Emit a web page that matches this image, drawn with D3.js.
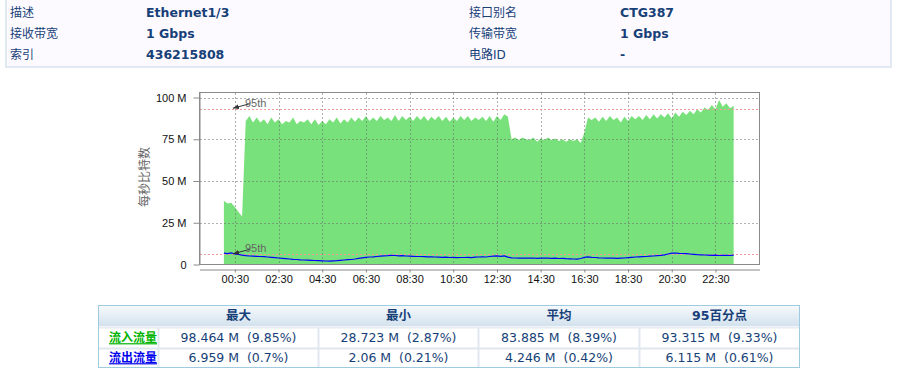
<!DOCTYPE html>
<html>
<head>
<meta charset="utf-8">
<script src="https://cdn.jsdelivr.net/npm/d3@7"></script>
<style>
body { margin: 0; background: #fff; }
svg text { white-space: pre; }
</style>
</head>
<body>
<script>
// ---- data ----
var infoLeft = [["描述", "Ethernet1/3"], ["接收带宽", "1 Gbps"], ["索引", "436215808"]];
var infoRight = [["接口别名", "CTG387"], ["传输带宽", "1 Gbps"], ["电路ID", "-"]];

var yTicks = [0, 25, 50, 75, 100];
var yTickLabels = ["0", "25 M", "50 M", "75 M", "100 M"];
var xTickLabels = ["00:30", "02:30", "04:30", "06:30", "08:30", "10:30", "12:30",
  "14:30", "16:30", "18:30", "20:30", "22:30"];
var yTitle = "每秒比特数";

// one sample every 10 minutes from 00:00 (Mbps)
var stepMin = 10;
var inbound = [
  38.2, 36.5, 37.0, 34.5, 31.5, 28.723,
  86, 89, 85, 88, 85, 87,
  84, 88, 85, 87, 84, 86,
  85, 88, 84, 86, 85, 87,
  84, 87, 83.5, 86, 84, 87,
  85, 88, 84.5, 87, 85, 88,
  85.5, 88, 86, 89, 86, 88,
  86, 89, 86.5, 88, 86, 89.5,
  86, 89, 86.5, 88.5, 86, 89,
  86.5, 89, 86, 88.5, 86.5, 89,
  86, 88.5, 85.5, 88, 86, 89,
  86.5, 89, 86, 88, 86.5, 88.5,
  86, 89, 85.5, 89, 86.5, 90,
  88.5, 75, 76, 74.5, 76, 75,
  74.5, 76, 73.5, 75.5, 74.5, 76,
  74.5, 75.5, 74, 75, 73.5, 75,
  74, 75, 72.8, 79, 88, 86.5,
  88, 85.5, 88.5, 86, 89, 86.5,
  88, 85, 88.5, 86, 89, 87,
  89, 86.5, 89.5, 87, 90, 87.5,
  90, 88, 90.5, 87.5, 91, 88.5,
  91.5, 89.5, 92, 90, 93, 91,
  94, 92.5, 95.5, 93, 98.464, 94.5,
  96.5, 93.5, 95
];
var outbound = [
  6.8, 6.5, 6.959, 6.3, 6.0, 5.6,
  5.3, 5.1, 5.0, 4.9, 4.8, 4.7,
  4.5, 4.3, 4.1, 3.9, 3.7, 3.5,
  3.3, 3.1, 3.0, 2.8, 2.7, 2.6,
  2.5, 2.4, 2.3, 2.2, 2.1, 2.06,
  2.2, 2.3, 2.5, 2.7, 2.9, 3.0,
  3.3, 3.7, 4.0, 4.3, 4.5, 4.6,
  4.8, 5.0, 5.2, 5.3, 5.5, 5.4,
  5.2, 5.3, 5.1, 5.0, 4.9, 4.8,
  4.8, 4.7, 4.6, 4.6, 4.5, 4.4,
  4.3, 4.4, 4.2, 4.3, 4.1, 4.2,
  4.2, 4.3, 4.1, 4.4, 4.5, 4.6,
  4.5, 4.8, 5.0, 5.2, 4.9, 5.1,
  4.4, 4.0, 3.9, 3.8, 3.8, 3.9,
  3.8, 3.9, 3.7, 3.8, 3.9, 3.8,
  3.7, 3.8, 3.6, 3.7, 3.5, 3.4,
  3.3, 3.2, 3.6, 4.3, 4.6, 4.3,
  4.2, 4.0, 3.9, 3.8, 3.9, 3.8,
  3.7, 3.8, 3.9, 4.1, 4.3, 4.5,
  4.6, 4.7, 4.8, 5.0, 5.1, 5.3,
  5.5, 5.8, 6.3, 6.8, 6.9, 6.7,
  6.6, 6.5, 6.3, 6.1, 5.9, 5.8,
  5.7, 5.6, 5.5, 5.6, 5.4, 5.5,
  5.5, 5.4, 5.6
];
var p95In = 93.315;
var p95Out = 6.115;

var statCols = ["最大", "最小", "平均", "95百分点"];
var statRows = ["流入流量", "流出流量"];
var inStats = ["98.464 M  (9.85%)", "28.723 M  (2.87%)", "83.885 M  (8.39%)", "93.315 M  (9.33%)"];
var outStats = ["6.959 M  (0.7%)", "2.06 M  (0.21%)", "4.246 M  (0.42%)", "6.115 M  (0.61%)"];

// ---- page ----
var width = 897, height = 378;
var cjk = "'DejaVu Sans', 'Noto Sans CJK SC', sans-serif";
var navy = "#173f78";

var svg = d3.select("body").append("svg")
  .attr("width", width)
  .attr("height", height);

// info box on top
svg.append("rect")
  .attr("x", 6).attr("y", -3).attr("width", 885).attr("height", 70)
  .attr("fill", "#fdfaff").attr("stroke", "#e1eaf3").attr("stroke-width", 2);

var infoY = [13, 34, 55];
function infoBlock(rows, xLabel, xValue) {
  var g = svg.append("g");
  g.selectAll(".lab").data(rows).enter().append("text")
    .attr("x", xLabel).attr("y", function(d, i) { return infoY[i]; })
    .attr("dy", "0.35em")
    .attr("font-family", cjk).attr("font-size", 12).attr("fill", navy)
    .text(function(d) { return d[0]; });
  g.selectAll(".val").data(rows).enter().append("text")
    .attr("x", xValue).attr("y", function(d, i) { return infoY[i]; })
    .attr("dy", "0.35em")
    .attr("font-family", cjk).attr("font-size", 12.5).attr("font-weight", "bold").attr("fill", navy)
    .text(function(d) { return d[1]; });
}
infoBlock(infoLeft, 10, 146);
infoBlock(infoRight, 469, 620);

// ---- chart ----
var times = inbound.map(function(d, i) { return i * stepMin; });
var xTickValues = xTickLabels.map(function(s) {
  var p = s.split(":");
  return +p[0] * 60 + +p[1];
});

var x = d3.scaleLinear().domain([-67, 1471]).range([199.5, 759.5]);
var y = d3.scaleLinear().domain([0, 103]).range([264.5, 92.5]);

svg.append("rect")
  .attr("x", 199.5).attr("y", 92.5).attr("width", 560).attr("height", 172)
  .attr("fill", "#fff");

var area = d3.area()
  .x(function(d, i) { return x(times[i]); })
  .y0(y(0))
  .y1(function(d) { return y(d); });

svg.append("path")
  .datum(inbound)
  .attr("d", area)
  .attr("fill", "#79e17b");

// grid
var gridColor = "rgba(110,110,110,0.55)";
svg.append("g").selectAll("line").data(xTickValues).enter().append("line")
  .attr("x1", function(d) { return Math.round(x(d)) + 0.5; })
  .attr("x2", function(d) { return Math.round(x(d)) + 0.5; })
  .attr("y1", 93).attr("y2", 264)
  .attr("stroke", gridColor).attr("stroke-dasharray", "2,2");

svg.append("g").selectAll("line").data(yTicks.slice(1)).enter().append("line")
  .attr("x1", 200).attr("x2", 759)
  .attr("y1", function(d) { return Math.round(y(d)) + 0.5; })
  .attr("y2", function(d) { return Math.round(y(d)) + 0.5; })
  .attr("stroke", gridColor).attr("stroke-dasharray", "2,2");

// 95th lines
svg.append("g").selectAll("line").data([p95In, p95Out]).enter().append("line")
  .attr("x1", 200).attr("x2", 759)
  .attr("y1", function(d) { return Math.round(y(d)) + 0.5; })
  .attr("y2", function(d) { return Math.round(y(d)) + 0.5; })
  .attr("stroke", "#f09a9a").attr("stroke-dasharray", "2,2");

var line = d3.line()
  .x(function(d, i) { return x(times[i]); })
  .y(function(d) { return y(d); });

svg.append("path")
  .datum(outbound)
  .attr("d", line)
  .attr("fill", "none")
  .attr("stroke", "#0000ff")
  .attr("stroke-width", 1.2);

// frame
svg.append("rect")
  .attr("x", 199.5).attr("y", 92.5).attr("width", 560).attr("height", 172)
  .attr("fill", "none").attr("stroke", "#8a8a8a");

// 95th markers
svg.append("defs").append("marker")
  .attr("id", "arr").attr("viewBox", "0 0 10 10")
  .attr("refX", 10).attr("refY", 5)
  .attr("markerWidth", 6).attr("markerHeight", 6)
  .attr("orient", "auto")
  .append("path").attr("d", "M0,1L10,5L0,9Z").attr("fill", "#333");

[p95In, p95Out].forEach(function(p) {
  var ly = y(p);
  svg.append("line")
    .attr("x1", 250).attr("y1", ly - 5)
    .attr("x2", x(25)).attr("y2", ly - 0.5)
    .attr("stroke", "#333").attr("stroke-width", 1)
    .attr("marker-end", "url(#arr)");
  svg.append("text")
    .attr("x", 245).attr("y", ly - 2)
    .attr("font-family", "'Liberation Sans', Arial, sans-serif").attr("font-size", 11)
    .attr("fill", "#666")
    .text("95th");
});

// axes
var yAxis = d3.axisLeft(y)
  .tickValues(yTicks)
  .tickFormat(function(d, i) { return yTickLabels[i]; })
  .tickSize(6).tickSizeOuter(0).tickPadding(7);

var gy = svg.append("g")
  .attr("transform", "translate(199.5,0)")
  .call(yAxis);

var xAxis = d3.axisBottom(x)
  .tickValues(xTickValues)
  .tickFormat(function(d, i) { return xTickLabels[i]; })
  .tickSize(3).tickSizeOuter(0).tickPadding(3);

var gx = svg.append("g")
  .attr("transform", "translate(0,269.5)")
  .call(xAxis);

[gx, gy].forEach(function(g) {
  g.select(".domain").attr("stroke", "#8a8a8a");
  g.selectAll(".tick line").attr("stroke", "#8a8a8a");
  g.selectAll("text")
    .attr("font-family", "'Liberation Sans', Arial, sans-serif")
    .attr("font-size", 11).attr("fill", "#111");
});

svg.append("text")
  .attr("transform", "translate(145,177) rotate(-90)")
  .attr("text-anchor", "middle").attr("dy", "0.35em")
  .attr("font-family", cjk).attr("font-size", 12).attr("fill", "#666")
  .text(yTitle);

// ---- stats table ----
var colEdges = [98.5, 158.5, 318.5, 478.5, 639.5, 799.5];
var grad = svg.select("defs").append("linearGradient")
  .attr("id", "hdr").attr("x1", 0).attr("y1", 0).attr("x2", 0).attr("y2", 1);
grad.append("stop").attr("offset", "0%").attr("stop-color", "#f6f9fc");
grad.append("stop").attr("offset", "100%").attr("stop-color", "#d3e2ee");

svg.append("rect")
  .attr("x", 98.5).attr("y", 305.5).attr("width", 701).attr("height", 62)
  .attr("fill", "#fff").attr("stroke", "#9fcbe0");
svg.append("rect")
  .attr("x", 99).attr("y", 306).attr("width", 700).attr("height", 20)
  .attr("fill", "url(#hdr)");
svg.append("line")
  .attr("x1", 99).attr("x2", 799).attr("y1", 327.5).attr("y2", 327.5)
  .attr("stroke", "#e6ecf1").attr("stroke-width", 2);
svg.append("line")
  .attr("x1", 99).attr("x2", 799).attr("y1", 348.5).attr("y2", 348.5)
  .attr("stroke", "#e1e7ee").attr("stroke-width", 2);
svg.append("g").selectAll("line").data(colEdges.slice(1, 5)).enter().append("line")
  .attr("x1", function(d) { return d; }).attr("x2", function(d) { return d; })
  .attr("y1", 328).attr("y2", 367)
  .attr("stroke", "#e1e7ee").attr("stroke-width", 2);

function colMid(i) { return (colEdges[i + 1] + colEdges[i + 2]) / 2; }

svg.append("g").selectAll("text").data(statCols).enter().append("text")
  .attr("x", function(d, i) { return colMid(i); }).attr("y", 316)
  .attr("dy", "0.35em").attr("text-anchor", "middle")
  .attr("font-family", cjk).attr("font-size", 12.5).attr("font-weight", "bold").attr("fill", navy)
  .text(function(d) { return d; });

var rowMid = [338, 358];
var rowColors = ["#00b400", "#0000ee"];
svg.append("g").selectAll("text").data(statRows).enter().append("text")
  .attr("x", 157).attr("y", function(d, i) { return rowMid[i]; })
  .attr("dy", "0.35em").attr("text-anchor", "end")
  .attr("font-family", cjk).attr("font-size", 12).attr("font-weight", "bold")
  .attr("fill", function(d, i) { return rowColors[i]; })
  .attr("text-decoration", "underline")
  .text(function(d) { return d; });

[inStats, outStats].forEach(function(vals, r) {
  svg.append("g").selectAll("text").data(vals).enter().append("text")
    .attr("x", function(d, i) { return colMid(i); }).attr("y", rowMid[r])
    .attr("dy", "0.35em").attr("text-anchor", "middle")
    .attr("font-family", cjk).attr("font-size", 12.5).attr("fill", navy)
    .text(function(d) { return d; });
});
</script>
</body>
</html>
